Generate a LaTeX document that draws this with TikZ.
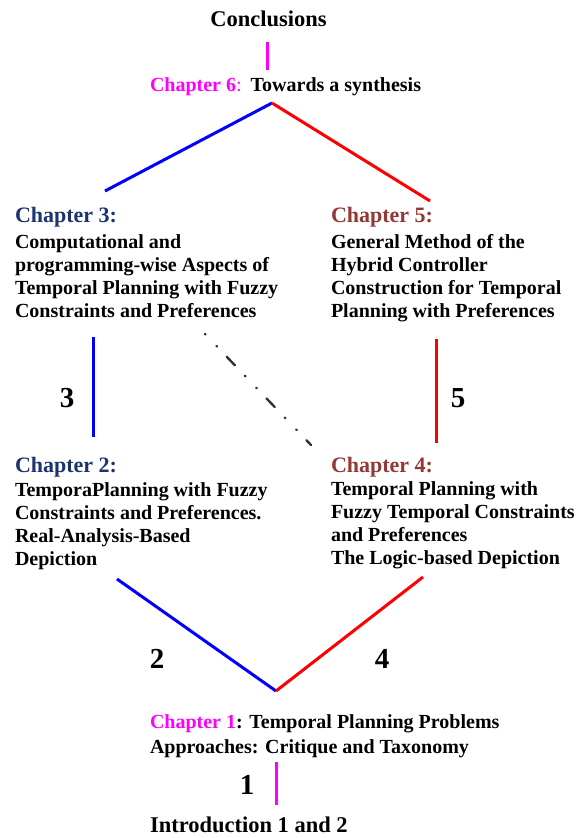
\documentclass[tikz,border=0pt]{standalone}
\usepackage{fontspec}
\setmainfont{Liberation Serif}
\definecolor{chblue}{RGB}{28,52,110}
\definecolor{chred}{RGB}{149,55,53}
\definecolor{mag}{RGB}{255,0,255}
\begin{document}
\begin{tikzpicture}[x=1pt,y=-1pt,
  every node/.style={inner sep=0pt, outer sep=0pt},
  body/.style={anchor=base west, align=left, font=\fontsize{20}{23}\selectfont\bfseries},
  head/.style={anchor=base west, font=\fontsize{22}{26}\selectfont\bfseries},
  big/.style={anchor=base, font=\fontsize{22.5}{26}\selectfont\bfseries},
  num/.style={font=\fontsize{29}{32}\selectfont\bfseries},
  bl/.style={draw=blue, line width=3pt},
  rl/.style={draw=red, line width=3pt},
  ml/.style={draw=mag, line width=3pt},
  dd/.style={draw=black!80, line width=2.4pt, line cap=round,
    dash pattern=on 0.8pt off 15.7pt on 0.8pt off 14pt on 12pt off 14.5pt}]
\useasboundingbox (0,0) rectangle (577,838);

% texts
\node[big] (concl) at (268.5,26) {Conclusions};
\node[body] (ch6) at (150,91) {\textcolor{mag}{Chapter 6}\textcolor{mag}{\mdseries:}\hspace{9pt}Towards a synthesis};

\node[head, text=chblue] (h3) at (15,222) {Chapter 3:};
\node[body] (b3) at (15,317) {Computational and\\programming-wise Aspects of\\Temporal Planning with Fuzzy\\Constraints and Preferences};

\node[head, text=chred] (h5) at (331,222) {Chapter 5:};
\node[body] (b5) at (331,317) {General Method of the\\Hybrid Controller\\Construction for Temporal\\Planning with Preferences};

\node[head, text=chblue] (h2) at (15,472) {Chapter 2:};
\node[body, font=\fontsize{20}{23}\selectfont\bfseries] (b2) at (15,565) {TemporaPlanning with Fuzzy\\Constraints and Preferences.\\Real-Analysis-Based\\Depiction};

\node[head, text=chred] (h4) at (331,472) {Chapter 4:};
\node[body, font=\fontsize{20}{23}\selectfont\bfseries] (b4) at (331,564) {Temporal Planning with\\Fuzzy Temporal Constraints\\and Preferences\\The Logic-based Depiction};

\node[body, font=\fontsize{20}{25}\selectfont\bfseries] (ch1) at (150,753) {\textcolor{mag}{Chapter 1}: Temporal Planning Problems\\Approaches: Critique and Taxonomy};

\node[big, anchor=base west] (intro) at (150,832) {Introduction 1 and 2};

% numbers
\node[num] (n3) at (67,398) {3};
\node[num] (n5) at (458,398) {5};
\node[num] (n2) at (157,659) {2};
\node[num] (n4) at (382,659) {4};
\node[num, anchor=base] (n1) at (247,794) {1};

% connector points
\coordinate (c6t) at (267,42);
\coordinate (c6b) at (267,70);
\coordinate (apex) at (272,103);
\coordinate (l3) at (105,191);
\coordinate (r5) at (430,201);
\coordinate (v3t) at (93,337);
\coordinate (v3b) at (93,437);
\coordinate (v5t) at (436,339);
\coordinate (v5b) at (436,443);
\coordinate (l2) at (117,579);
\coordinate (r4) at (423,577);
\coordinate (apex1) at (276,691);
\coordinate (v1t) at (276,762);
\coordinate (v1b) at (276,805);
\coordinate (ds) at (205,334);
\coordinate (de) at (311,445);

% connectors
\draw[ml] (c6t) -- (c6b);
\draw[bl] (apex) -- (l3);
\draw[rl] (apex) -- (r5);
\draw[bl] (v3t) -- (v3b);
\draw[rl] (v5t) -- (v5b);
\draw[bl] (l2) -- (apex1);
\draw[rl] (apex1) -- (r4);
\draw[ml] (v1t) -- (v1b);
\draw[dd] (ds) -- (de);
\end{tikzpicture}
\end{document}
